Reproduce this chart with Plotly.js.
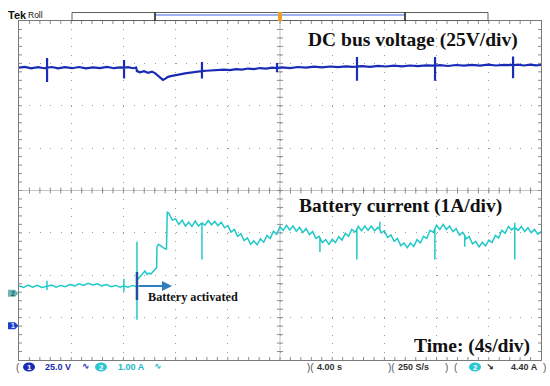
<!DOCTYPE html>
<html>
<head>
<meta charset="utf-8">
<script src="https://cdn.plot.ly/plotly-3.0.1.min.js"></script>
<style>html,body{margin:0;padding:0;background:#fff;}#chart{width:550px;height:386px;}</style>
</head>
<body>
<div id="chart"></div>
<script>
// ---- Channel 1: DC bus voltage (V), time in s ----
const voltageTime = [
  0, 0.46, 0.92, 1.46, 1.92, 2.15, 2.15, 2.15, 2.15, 2.53,
  2.99, 3.52, 4.06, 4.60, 5.13, 5.67, 6.21, 6.74, 7.28, 7.74,
  8.05, 8.05, 8.05, 8.05, 8.35, 8.74, 8.97, 9.04, 9.27, 9.58,
  9.89, 10.19, 10.42, 10.65, 10.88, 11.03, 11.19, 11.42, 11.72, 12.03,
  12.34, 12.72, 13.10, 13.49, 13.87, 14.02, 14.02, 14.02, 14.02, 14.33,
  14.79, 15.25, 15.71, 16.17, 16.63, 17.09, 17.55, 18.01, 18.47, 18.93,
  19.39, 19.77, 19.77, 19.77, 19.77, 20.15, 20.77, 21.38, 21.99, 22.61,
  23.22, 23.83, 24.44, 25.06, 25.52, 25.90, 25.90, 25.90, 25.90, 26.28,
  26.90, 27.51, 28.12, 28.74, 29.35, 29.96, 30.57, 31.19, 31.65, 31.88,
  31.88, 31.88, 31.88, 32.26, 32.87, 33.49, 34.10, 34.71, 35.33, 35.94,
  36.55, 37.17, 37.63, 37.86, 37.86, 37.86, 37.86, 38.24, 38.70, 39.16,
  39.62, 40.00
];
const voltageValues = [
  152.2, 152.7, 151.8, 152.5, 151.9, 152.2, 157.9, 143.8, 152.2, 152.6,
  151.8, 152.5, 151.9, 152.6, 151.8, 152.4, 152.0, 152.7, 151.9, 152.4,
  152.2, 156.8, 145.9, 152.2, 152.5, 151.9, 152.3, 150.2, 149.5, 150.1,
  149.2, 149.9, 149.0, 147.5, 146.2, 145.0, 145.6, 146.8, 147.4, 148.0,
  148.3, 148.8, 149.2, 149.6, 150.1, 150.2, 155.6, 145.9, 150.2, 150.4,
  150.6, 150.5, 151.1, 150.8, 151.4, 151.1, 151.7, 151.4, 152.0, 151.7,
  152.2, 152.0, 155.0, 149.5, 152.0, 152.4, 152.0, 152.6, 152.3, 152.8,
  152.4, 152.9, 152.5, 153.0, 152.7, 152.9, 158.5, 144.5, 152.9, 153.1,
  152.7, 153.3, 152.9, 153.4, 153.0, 153.5, 153.1, 153.6, 153.2, 153.4,
  158.5, 144.5, 153.4, 153.7, 153.2, 153.8, 153.4, 153.9, 153.4, 154.0,
  153.5, 153.9, 153.5, 153.7, 158.8, 146.0, 153.7, 154.0, 153.5, 154.0,
  153.6, 153.8
];

// ---- Channel 2: battery current (A), time in s ----
const currentTime = [
  0, 0.35, 0.70, 1.05, 1.40, 1.75, 2.14, 2.14, 2.14, 2.14,
  2.50, 2.85, 3.20, 3.55, 3.90, 4.25, 4.60, 4.95, 5.30, 5.65,
  6.00, 6.35, 6.70, 7.05, 7.40, 7.75, 8.04, 8.04, 8.04, 8.04,
  8.35, 8.70, 9.00, 9.04, 9.04, 9.04, 9.04, 9.20, 9.35, 9.50,
  9.65, 9.80, 9.95, 10.10, 10.25, 10.40, 10.55, 10.57, 10.70, 10.85,
  11.00, 11.15, 11.30, 11.36, 11.50, 11.75, 12.00, 12.25, 12.50, 12.75,
  13.00, 13.25, 13.50, 13.75, 14.02, 14.02, 14.02, 14.25, 14.50, 14.75,
  15.00, 15.25, 15.50, 15.75, 16.00, 16.25, 16.50, 16.75, 17.00, 17.25,
  17.50, 17.75, 18.00, 18.25, 18.50, 18.75, 19.00, 19.25, 19.50, 19.75,
  20.00, 20.25, 20.50, 20.75, 21.00, 21.25, 21.50, 21.75, 22.00, 22.25,
  22.50, 22.75, 23.00, 23.06, 23.06, 23.06, 23.25, 23.50, 23.75, 24.00,
  24.25, 24.50, 24.75, 25.00, 25.25, 25.50, 25.75, 25.89, 25.89, 25.89,
  26.00, 26.25, 26.50, 26.75, 27.00, 27.25, 27.50, 27.65, 27.65, 27.65,
  27.75, 28.00, 28.25, 28.50, 28.75, 29.00, 29.25, 29.50, 29.75, 30.00,
  30.25, 30.50, 30.75, 31.00, 31.25, 31.50, 31.75, 31.87, 31.87, 31.87,
  32.00, 32.25, 32.50, 32.75, 33.00, 33.25, 33.50, 33.75, 34.00, 34.16,
  34.16, 34.16, 34.25, 34.50, 34.75, 35.00, 35.25, 35.50, 35.75, 36.00,
  36.25, 36.50, 36.75, 37.00, 37.25, 37.50, 37.75, 37.99, 37.99, 37.99,
  37.99, 38.25, 38.50, 38.75, 39.00, 39.25, 39.50, 39.75, 40.00
];
const currentValues = [
  0.17, 0.13, 0.19, 0.14, 0.18, 0.13, 0.16, 0.29, 0.07, 0.16,
  0.19, 0.14, 0.18, 0.15, 0.20, 0.17, 0.22, 0.18, 0.23, 0.19,
  0.22, 0.17, 0.20, 0.15, 0.18, 0.14, 0.17, 0.34, 0.03, 0.17,
  0.14, 0.18, 0.15, 0.18, 1.21, -0.63, 0.30, 0.36, 0.42, 0.47,
  0.52, 0.44, 0.47, 0.45, 0.50, 0.56, 0.60, 1.09, 1.15, 1.12,
  1.08, 1.05, 1.04, 1.92, 1.88, 1.72, 1.75, 1.62, 1.72, 1.58,
  1.67, 1.57, 1.70, 1.58, 1.66, 0.79, 1.66, 1.60, 1.71, 1.61,
  1.69, 1.59, 1.67, 1.54, 1.59, 1.44, 1.50, 1.34, 1.40, 1.24,
  1.30, 1.15, 1.23, 1.14, 1.28, 1.20, 1.36, 1.29, 1.46, 1.39,
  1.56, 1.48, 1.60, 1.49, 1.58, 1.46, 1.55, 1.43, 1.52, 1.38,
  1.45, 1.29, 1.34, 1.30, 0.97, 1.30, 1.19, 1.26, 1.15, 1.27,
  1.19, 1.33, 1.25, 1.41, 1.34, 1.50, 1.44, 1.50, 0.79, 1.50,
  1.57, 1.47, 1.58, 1.48, 1.58, 1.47, 1.55, 1.50, 1.68, 1.50,
  1.42, 1.47, 1.31, 1.37, 1.22, 1.29, 1.12, 1.18, 1.07, 1.18,
  1.10, 1.26, 1.18, 1.34, 1.29, 1.48, 1.43, 1.52, 0.79, 1.52,
  1.60, 1.50, 1.62, 1.50, 1.58, 1.45, 1.52, 1.37, 1.43, 1.36,
  1.09, 1.36, 1.28, 1.33, 1.16, 1.22, 1.09, 1.20, 1.11, 1.25,
  1.19, 1.36, 1.30, 1.48, 1.41, 1.57, 1.49, 1.55, 0.79, 1.66,
  1.55, 1.48, 1.57, 1.45, 1.54, 1.42, 1.50, 1.39, 1.45
];

// ---- Scope settings / labels ----
const ch1VoltsPerDiv = 25;      // V/div
const ch1GroundDiv = -3.19;     // ground marker position (div from centre)
const ch2AmpsPerDiv = 1;        // A/div
const ch2GroundDiv = -2.42;
const secondsPerDiv = 4;
const nDivX = 10, nDivY = 8;
const activationTime = 9.04;    // s

const titleVoltage = 'DC bus voltage (25V/div)';
const titleCurrent = 'Battery current (1A/div)';
const titleTime = 'Time: (4s/div)';
const activationLabel = 'Battery activated';
const statusCh1 = '25.0 V';
const statusCh2 = '1.00 A';
const statusTime = '4.00 s';
const statusRate = '250 S/s';
const statusTrig = '4.40 A';

// ---- geometry helpers (pixel -> paper) ----
const L = 19, R = 541, T = 21, B = 360;
const px = x => (x - L) / (R - L);
const py = y => (B - y) / (B - T);

const vRange = [(-nDivY/2 - ch1GroundDiv) * ch1VoltsPerDiv, (nDivY/2 - ch1GroundDiv) * ch1VoltsPerDiv];
const iRange = [(-nDivY/2 - ch2GroundDiv) * ch2AmpsPerDiv, (nDivY/2 - ch2GroundDiv) * ch2AmpsPerDiv];
const tEnd = nDivX * secondsPerDiv;

const BLUE = '#1a2bb5', CYAN = '#22c8c8', TICK = '#8c8c8c', GRID = '#9a9a9a';

const traces = [
  {x: voltageTime, y: voltageValues, type: 'scatter', mode: 'lines', yaxis: 'y',
   line: {color: BLUE, width: 2.2}, hoverinfo: 'skip'},
  {x: currentTime, y: currentValues, type: 'scatter', mode: 'lines', yaxis: 'y2',
   line: {color: CYAN, width: 1.5}, hoverinfo: 'skip'}
];

const shapes = [];
const tk = {color: TICK, width: 1};
// crosshair lines
shapes.push({type: 'line', xref: 'x', yref: 'paper', x0: tEnd/2, x1: tEnd/2, y0: 0, y1: 1, line: {color: '#c4c4c4', width: 1}, layer: 'below'});
shapes.push({type: 'line', xref: 'paper', yref: 'paper', x0: 0, x1: 1, y0: 0.5, y1: 0.5, line: {color: '#c4c4c4', width: 1}, layer: 'below'});
// minor ticks (5 per division) along border and crosshair
for (let k = 1; k < nDivX * 5; k++) {
  const t = k * secondsPerDiv / 5;
  shapes.push({type: 'line', xref: 'x', yref: 'paper', ysizemode: 'pixel', yanchor: 1, x0: t, x1: t, y0: 0, y1: -3, line: tk, layer: 'below'});
  shapes.push({type: 'line', xref: 'x', yref: 'paper', ysizemode: 'pixel', yanchor: 0, x0: t, x1: t, y0: 0, y1: 3, line: tk, layer: 'below'});
  shapes.push({type: 'line', xref: 'x', yref: 'paper', ysizemode: 'pixel', yanchor: 0.5, x0: t, x1: t, y0: -3, y1: 3, line: tk, layer: 'below'});
}
for (let k = 1; k < nDivY * 5; k++) {
  const v = vRange[0] + k * ch1VoltsPerDiv / 5;
  shapes.push({type: 'line', yref: 'y', xref: 'paper', xsizemode: 'pixel', xanchor: 0, y0: v, y1: v, x0: 0, x1: 3, line: tk, layer: 'below'});
  shapes.push({type: 'line', yref: 'y', xref: 'paper', xsizemode: 'pixel', xanchor: 1, y0: v, y1: v, x0: 0, x1: -3, line: tk, layer: 'below'});
  shapes.push({type: 'line', yref: 'y', xref: 'x', xsizemode: 'pixel', xanchor: tEnd/2, y0: v, y1: v, x0: -3, x1: 3, line: tk, layer: 'below'});
}
// top record bar
shapes.push({type: 'rect', xref: 'paper', yref: 'paper', x0: px(72), x1: px(488), y0: py(20.5), y1: py(12.5), line: {color: '#606060', width: 1}, fillcolor: '#fff'});
shapes.push({type: 'line', xref: 'paper', yref: 'paper', x0: px(156), x1: px(404), y0: py(15), y1: py(15), line: {color: '#9fb2ee', width: 2}});
shapes.push({type: 'line', xref: 'paper', yref: 'paper', x0: px(155), x1: px(155), y0: py(20.5), y1: py(12.5), line: {color: '#111', width: 1.5}});
shapes.push({type: 'line', xref: 'paper', yref: 'paper', x0: px(405), x1: px(405), y0: py(20.5), y1: py(12.5), line: {color: '#111', width: 1.5}});
shapes.push({type: 'rect', xref: 'paper', yref: 'paper', x0: px(278), x1: px(282), y0: py(21), y1: py(12), line: {width: 0}, fillcolor: '#f0a020'});
// channel ground tags
function tagPath(y) {
  return 'M' + px(8) + ',' + py(y - 3.5) + ' L' + px(15) + ',' + py(y - 3.5) + ' L' + px(18.5) + ',' + py(y) +
         ' L' + px(15) + ',' + py(y + 3.5) + ' L' + px(8) + ',' + py(y + 3.5) + ' Z';
}
const g2y = 190.6 - ch2GroundDiv * 42.4, g1y = 190.6 - ch1GroundDiv * 42.4;
shapes.push({type: 'path', xref: 'paper', yref: 'paper', path: tagPath(g2y), fillcolor: '#6ab8b8', line: {width: 0}});
shapes.push({type: 'path', xref: 'paper', yref: 'paper', path: tagPath(g1y), fillcolor: '#2040d0', line: {width: 0}});
// activation marker
shapes.push({type: 'line', xref: 'x', yref: 'paper', x0: activationTime, x1: activationTime, y0: py(300), y1: py(272), line: {color: '#1f4f9f', width: 2.5}});
// status badges
function badge(cx, color) {
  return {type: 'circle', xref: 'paper', yref: 'paper', x0: px(cx - 6), x1: px(cx + 6), y0: py(371.5), y1: py(362.5), fillcolor: color, line: {width: 0}};
}
shapes.push(badge(29, '#1a2bb5'), badge(101, '#2cc6d2'), badge(475, '#2cc6d2'));

const serif = 'Liberation Serif, Times New Roman, serif';
const sans = 'Liberation Sans, Arial, sans-serif';
function txt(x, y, text, size, color, anchor, family) {
  return {xref: 'paper', yref: 'paper', x: px(x), y: py(y), text: text, showarrow: false,
          xanchor: anchor || 'center', yanchor: 'middle', font: {family: family || sans, size: size, color: color}};
}
const annotations = [
  txt(412.5, 40, '<b>' + titleVoltage + '</b>', 19.5, '#111', 'center', serif),
  txt(400, 206, '<b>' + titleCurrent + '</b>', 19.5, '#111', 'center', serif),
  txt(472, 346, '<b>' + titleTime + '</b>', 19.5, '#111', 'center', serif),
  txt(193, 297, '<b>' + activationLabel + '</b>', 12.2, '#111', 'center', serif),
  {xref: 'paper', yref: 'paper', x: px(172), y: py(286), ax: -35, ay: 0, text: '', showarrow: true,
   arrowhead: 2, arrowsize: 1, arrowwidth: 2, arrowcolor: '#2f7fc0'},
  txt(6, 15.5, '<b>Tek</b>', 11, '#111', 'left'),
  txt(26, 15.5, 'Roll', 8.5, '#111', 'left'),
  txt(13, g2y, '<b>2</b>', 7, '#2a5a5a'),
  txt(13, g1y, '<b>1</b>', 7, '#dfe6ff'),
  txt(18, 367, '(', 10, '#555', 'center'),
  txt(29, 367, '<b>1</b>', 8, '#fff'),
  txt(43, 367, '<b>' + statusCh1 + '</b>', 9, BLUE, 'left'),
  txt(86, 366, '<b>∿</b>', 9, BLUE, 'center', 'DejaVu Sans'),
  txt(101, 367, '<b>2</b>', 8, '#fff'),
  txt(116, 367, '<b>' + statusCh2 + '</b>', 9, '#20b8c8', 'left'),
  txt(158, 366, '<b>∿</b>', 9, '#20b8c8', 'center', 'DejaVu Sans'),
  txt(310, 367, ')(', 10, '#555', 'center'),
  txt(315, 367, '<b>' + statusTime + '</b>', 9, '#333', 'left'),
  txt(391, 367, ')(', 10, '#555', 'center'),
  txt(396, 367, '<b>' + statusRate + '</b>', 9, '#333', 'left'),
  txt(451, 367, ')  (', 10, '#555', 'center'),
  txt(475, 367, '<b>2</b>', 8, '#fff'),
  txt(490, 367, '<b>↘</b>', 9, '#222', 'center', 'DejaVu Sans'),
  txt(540, 367, '<b>' + statusTrig + '</b>', 9, '#333', 'right'),
  txt(544, 367, ')', 10, '#555', 'center')
];

const axisCommon = {showticklabels: false, ticks: '', zeroline: false, showline: true, linecolor: '#7a7a7a',
                    linewidth: 1, mirror: true, gridcolor: GRID, gridwidth: 1, fixedrange: true};
const layout = {
  width: 550, height: 386,
  margin: {l: L, r: 550 - R, t: T, b: 386 - B, pad: 0},
  paper_bgcolor: '#fff', plot_bgcolor: '#fff', showlegend: false,
  xaxis: Object.assign({}, axisCommon, {range: [0, tEnd], tick0: 0, dtick: secondsPerDiv, showgrid: true, griddash: '1px,7.48px'}),
  yaxis: Object.assign({}, axisCommon, {range: vRange, tick0: vRange[0], dtick: ch1VoltsPerDiv, showgrid: true, griddash: '1px,9.44px'}),
  yaxis2: {range: iRange, overlaying: 'y', visible: false, fixedrange: true},
  shapes: shapes,
  annotations: annotations
};
Plotly.newPlot('chart', traces, layout, {displayModeBar: false, staticPlot: true});
</script>
</body>
</html>
